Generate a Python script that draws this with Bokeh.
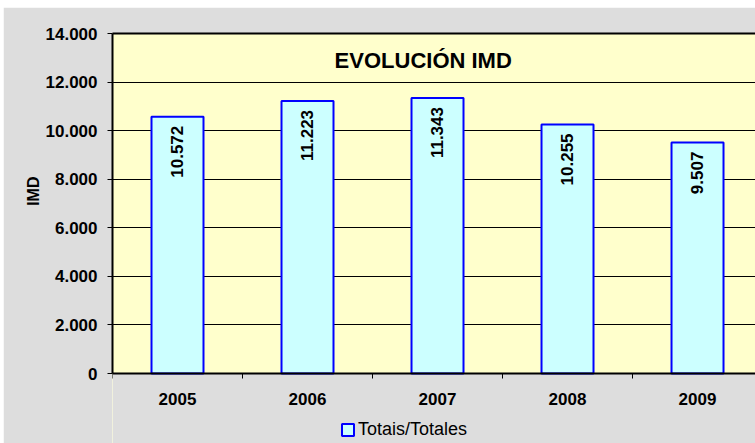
from math import pi
from bokeh.plotting import figure
from bokeh.models import (ColumnDataSource, Range1d, FixedTicker, LinearAxis,
                          Label, Legend, LegendItem, BoxAnnotation, Title)
from bokeh.core.properties import value
from bokeh.embed import file_html
from bokeh.resources import INLINE

years = ["2005", "2006", "2007", "2008", "2009"]
values = [10572, 11223, 11343, 10255, 9507]
y_ticks = [0, 2000, 4000, 6000, 8000, 10000, 12000, 14000]
y_tick_labels = ["0", "2.000", "4.000", "6.000", "8.000", "10.000", "12.000", "14.000"]
title_text = "EVOLUCIÓN IMD"
y_label = "IMD"
series_name = "Totais/Totales"

FONT = "Liberation Sans"
BG = "#dddddd"
BAR_FILL = "#ccffff"
BAR_LINE = "#0000ff"
xs = list(range(len(years)))
value_labels = [f"{v:,}".replace(",", ".") for v in values]
y_max = y_ticks[-1]
# plot area is 340 px tall for the value range; 70 px strip below it holds labels/legend
y_min = -y_max * 70 / 340

src = ColumnDataSource(dict(x=xs, top=values, lbl=value_labels))

p = figure(width=752, height=436, output_backend="svg", toolbar_location=None,
           x_range=Range1d(-0.5, 4.446), y_range=Range1d(y_min, y_max),
           min_border_left=109, min_border_right=0, min_border_top=26,
           min_border_bottom=0)
p.margin = (7, 0, 0, 3)
p.background_fill_color = "#ffffcc"
p.border_fill_color = BG
p.outline_line_color = None

# grey strip below the value axis (inside the frame)
p.add_layout(BoxAnnotation(top=0, fill_color=BG, fill_alpha=1, line_color=None,
                           level="underlay"))

bars = p.vbar(x="x", top="top", width=0.4, bottom=0, source=src,
              fill_color=BAR_FILL, line_color=BAR_LINE, line_width=2)

p.text(x="x", y="top", text="lbl", source=src, angle=pi / 2,
       text_align="right", text_baseline="middle", y_offset=9, x_offset=-1,
       text_font=value(FONT), text_font_style="bold", text_font_size="17px",
       text_color="black")

# y axis
ya = p.yaxis[0]
ya.ticker = FixedTicker(ticks=y_ticks)
ya.bounds = (0, y_max)
ya.major_label_overrides = {t: l for t, l in zip(y_ticks, y_tick_labels)}
ya.major_tick_out = 5
ya.major_tick_in = 0
ya.minor_tick_out = 0
ya.minor_tick_in = 0
ya.axis_line_width = 2
ya.axis_line_color = "black"
ya.major_label_text_font = FONT
ya.major_label_text_font_style = "bold"
ya.major_label_text_font_size = "17px"
ya.major_label_text_color = "black"
ya.major_label_standoff = 10

# y axis title, placed along the value part of the axis
p.add_layout(Title(text=y_label, align="right", offset=143, standoff=2,
                   text_font=FONT, text_font_style="bold", text_font_size="16px",
                   text_color="black"), "left")

# x axis, drawn at value 0
xa = p.xaxis[0]
xa.fixed_location = 0
xa.ticker = FixedTicker(ticks=xs, minor_ticks=[i - 0.5 for i in xs] + [xs[-1] + 0.5])
xa.major_label_overrides = {i: y for i, y in zip(xs, years)}
xa.major_tick_out = 0
xa.major_tick_in = 0
xa.minor_tick_out = 5
xa.minor_tick_in = 0
xa.minor_tick_line_color = "black"
xa.axis_line_width = 2
xa.axis_line_color = "black"
xa.major_label_text_font = FONT
xa.major_label_text_font_style = "bold"
xa.major_label_text_font_size = "17px"
xa.major_label_text_color = "black"
xa.major_label_standoff = 14

# top border
top_ax = LinearAxis(major_tick_out=0, major_tick_in=0, minor_tick_out=0, minor_tick_in=0,
                    major_label_text_font_size="0px", axis_line_width=2,
                    axis_line_color="black")
top_ax.ticker = FixedTicker(ticks=[])
p.add_layout(top_ax, "above")

p.xgrid.grid_line_color = None
p.ygrid.ticker = FixedTicker(ticks=y_ticks)
p.ygrid.grid_line_color = "black"
p.ygrid.grid_line_width = 1

p.add_layout(Label(x=1.89, y=12874, text=title_text, text_align="center",
                   text_baseline="middle", text_font=FONT, text_font_style="bold",
                   text_font_size="22px", text_color="black"))

legend = Legend(items=[LegendItem(label=series_name, renderers=[bars])],
                location=(228, 3), orientation="horizontal",
                padding=0, margin=0, spacing=0, glyph_width=15, glyph_height=15,
                label_standoff=3, label_text_font=FONT, label_text_font_size="18px",
                label_text_color="black", background_fill_alpha=0,
                border_line_color=None)
p.add_layout(legend)

open("out.html", "w").write(file_html(p, INLINE))
